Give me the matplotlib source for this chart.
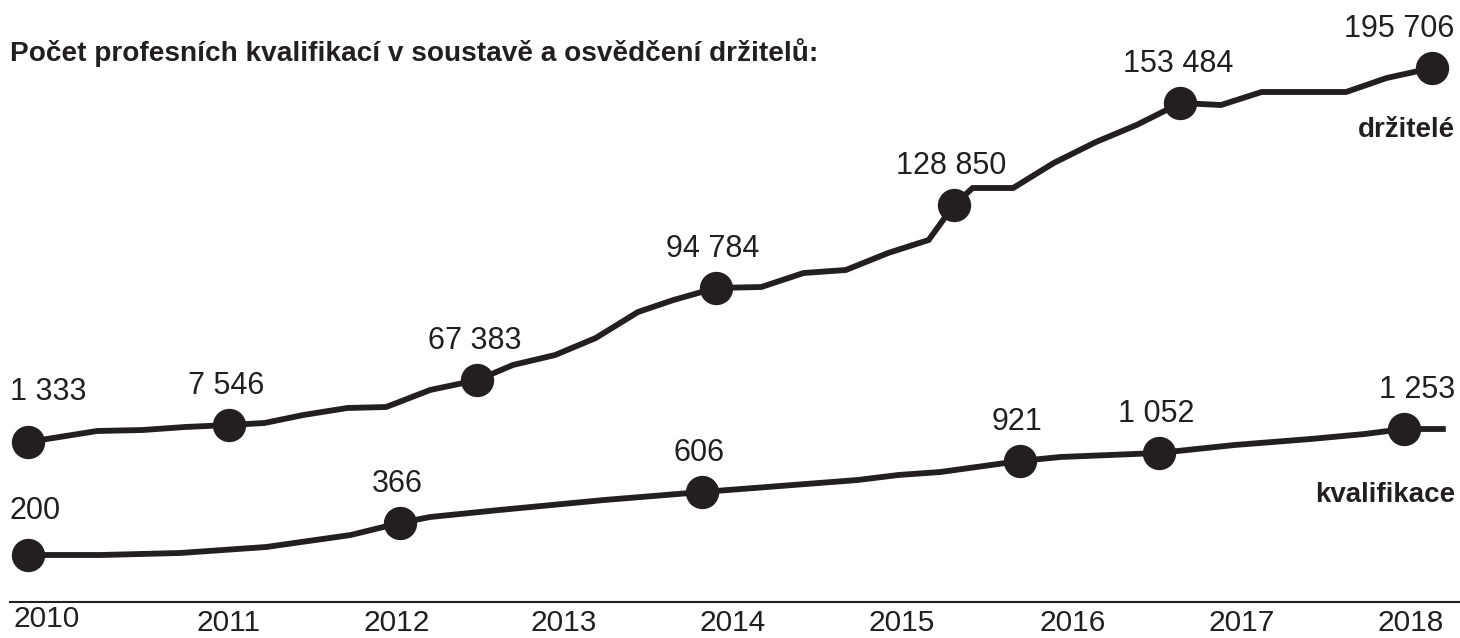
import numpy as np
import matplotlib.pyplot as plt

plt.rcParams['font.family'] = ['Liberation Sans', 'DejaVu Sans']

INK = '#231f20'

# drzitele (holders) - line path, x in decimal years, y = drawn height
holders_x = [2009.81, 2010.22, 2010.49, 2010.74, 2011.00, 2011.21, 2011.44, 2011.70,
             2011.93, 2012.19, 2012.47, 2012.68, 2012.93, 2013.17, 2013.42, 2013.63,
             2013.88, 2014.15, 2014.40, 2014.65, 2014.90, 2015.14, 2015.29, 2015.40,
             2015.64, 2015.88, 2016.13, 2016.37, 2016.63, 2016.87, 2017.11, 2017.61,
             2017.85, 2018.12]
holders_y = [160, 171, 172, 175, 177, 179, 187, 194,
             195, 212, 222, 237, 247, 264, 290, 302,
             314, 315, 329, 332, 349, 362, 397, 414,
             414, 439, 460, 477, 499, 497, 510, 510,
             524, 534]
holders_dots = [0, 4, 10, 16, 22, 28, 33]
holders_labels = ['1 333', '7 546', '67 383', '94 784', '128 850', '153 484', '195 706']

# kvalifikace (qualifications)
quals_x = [2009.81, 2010.24, 2010.71, 2011.22, 2011.72, 2012.01, 2012.19, 2012.60,
           2013.22, 2013.80, 2014.72, 2014.96, 2015.21, 2015.68, 2015.92, 2016.50,
           2016.95, 2017.40, 2017.72, 2017.95, 2018.20]
quals_y = [47, 47, 49, 55, 67, 79, 85, 92,
           102, 110, 122, 127, 130, 141, 145, 149,
           157, 163, 168, 173, 173]
quals_dots = [0, 5, 9, 13, 15, 19]
quals_labels = ['200', '366', '606', '921', '1 052', '1 253']

years = [2010, 2011, 2012, 2013, 2014, 2015, 2016, 2017, 2018]
year_pos = [2009.92, 2011.0, 2011.99, 2012.98, 2013.98, 2014.98, 2015.99, 2016.99, 2017.99]

fig = plt.figure(figsize=(14.6, 6.38), dpi=100)
ax = fig.add_axes([0, 0, 1, 1])
ax.set_xlim(2009.645, 2018.284)
ax.set_ylim(-36, 602)
ax.axis('off')

def draw_series(xs, ys, dots, labels, first_up, last_dx):
    ax.plot(xs, ys, color=INK, lw=4.2, solid_joinstyle='miter', solid_capstyle='butt', zorder=2)
    dx = [xs[i] for i in dots]
    dy = [ys[i] for i in dots]
    ax.plot(dx, dy, 'o', color=INK, ms=23, zorder=3)
    for k, (x, y, lab) in enumerate(zip(dx, dy, labels)):
        ha, xoff, yoff = 'center', -2, 28
        if k == 0:
            ha, xoff, yoff = 'left', -13, first_up
        elif k == len(labels) - 1:
            ha, xoff = 'right', last_dx
        ax.annotate(lab, (x, y), xytext=(xoff, yoff), textcoords='offset points',
                    ha=ha, va='center', fontsize=22, color=INK)

draw_series(holders_x, holders_y, holders_dots, holders_labels, 36, 16)
draw_series(quals_x, quals_y, quals_dots, quals_labels, 31.5, 37)

# series names
ax.text(0.9965, 1 - 130 / 638, 'držitelé', transform=ax.transAxes, ha='right', va='center',
        fontsize=20, fontweight='bold', color=INK)
ax.text(0.9965, 1 - 495 / 638, 'kvalifikace', transform=ax.transAxes, ha='right', va='center',
        fontsize=20, fontweight='bold', color=INK)

# baseline and years
ax.axhline(0, xmin=10 / 1460, xmax=1, color=INK, lw=1.5)
for yr, pos in zip(years, year_pos):
    yy = -17 if yr == 2010 else -21
    ax.text(pos, yy, str(yr), ha='center', va='center', fontsize=21.5, color=INK)

fig.text(10 / 1460, 1 - 53 / 638, 'Počet profesních kvalifikací v soustavě a osvědčení držitelů:',
         ha='left', va='center', fontsize=20.2, fontweight='bold', color=INK)

fig.savefig('out.png', dpi=100, facecolor='white')
